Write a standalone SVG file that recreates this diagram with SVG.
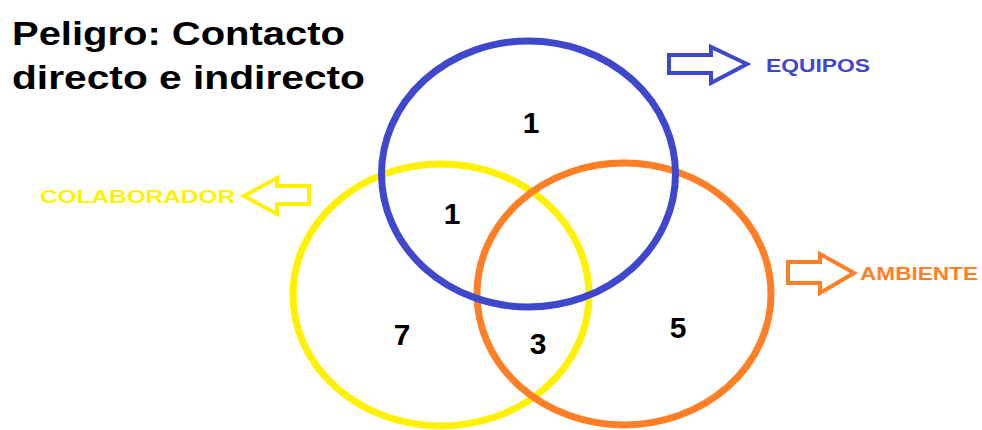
<svg xmlns="http://www.w3.org/2000/svg" width="982" height="430" viewBox="0 0 982 430">
<style>
.title{font-family:"Liberation Sans",Arial,sans-serif;font-weight:bold;font-size:33px;fill:#000}
.num{font-family:"Liberation Sans",Arial,sans-serif;font-weight:bold;font-size:30px;fill:#000;text-anchor:middle}
.lbl{font-family:"Liberation Sans",Arial,sans-serif;font-weight:bold;font-size:19px}
.ring{fill:none;stroke-width:7}
.arr{fill:none;stroke-width:4;stroke-linejoin:miter}
</style>
<rect width="982" height="430" fill="#fff"/>
<g id="title">
<text class="title" x="12" y="45" textLength="333" lengthAdjust="spacingAndGlyphs">Peligro: Contacto</text>
<text class="title" x="12" y="89" textLength="353" lengthAdjust="spacingAndGlyphs">directo e indirecto</text>
</g>
<g id="colaborador">
<ellipse class="ring" cx="441" cy="295" rx="148" ry="131" stroke="#fff200"/>
</g>
<g id="ambiente">
<ellipse class="ring" cx="624" cy="294" rx="147" ry="131" stroke="#ff7f27"/>
</g>
<g id="equipos">
<ellipse class="ring" cx="528.5" cy="174" rx="147" ry="133" stroke="#3f48cc"/>
</g>
<g id="counts">
<text class="num" x="531" y="133">1</text>
<text class="num" x="452" y="224">1</text>
<text class="num" x="402" y="345">7</text>
<text class="num" x="538" y="354">3</text>
<text class="num" x="678" y="338">5</text>
</g>
<g id="connectors">
<polygon class="arr" stroke="#3f48cc" points="669,55 711,55 711,47 747,64 711,83 711,73 669,73"/>
<polygon class="arr" stroke="#fff200" points="309,186 277,186 277,178 244,196 277,214 277,204 309,204"/>
<polygon class="arr" stroke="#ff7f27" points="788,262 820,262 820,254 854,273 820,293 820,283 788,283"/>
</g>
<g id="labels">
<text class="lbl" x="766" y="72" fill="#3f48cc" textLength="104" lengthAdjust="spacingAndGlyphs">EQUIPOS</text>
<text class="lbl" x="40" y="203" fill="#fff200" textLength="195" lengthAdjust="spacingAndGlyphs">COLABORADOR</text>
<text class="lbl" x="860" y="280" fill="#ff7f27" textLength="118" lengthAdjust="spacingAndGlyphs">AMBIENTE</text>
</g>
</svg>
